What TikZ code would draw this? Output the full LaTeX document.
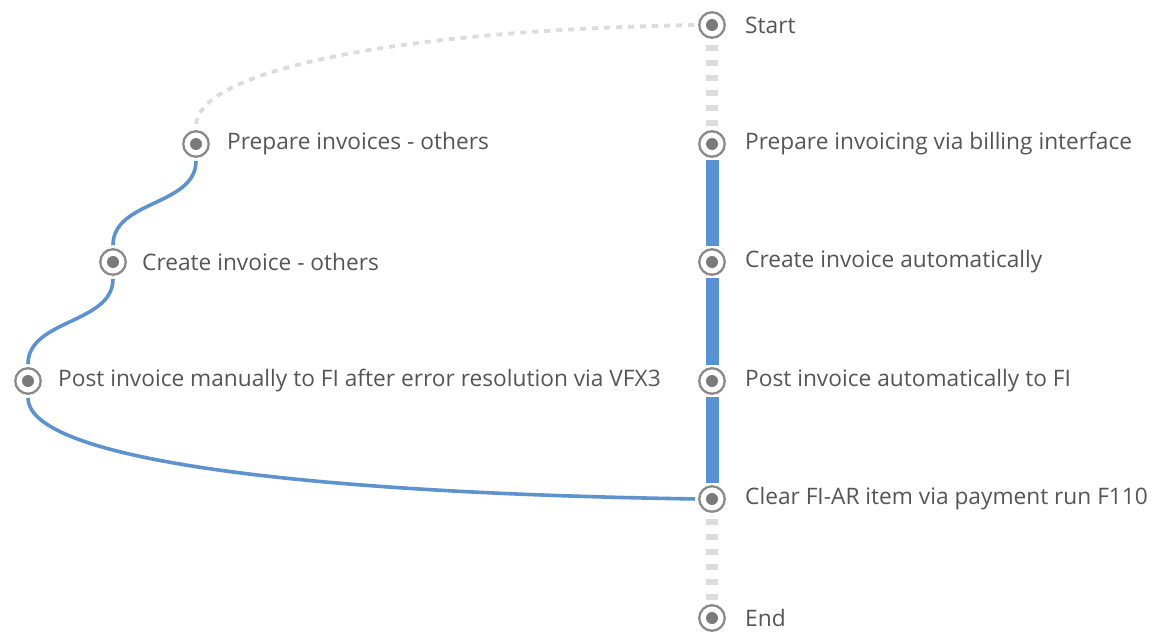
\documentclass[tikz,border=0pt]{standalone}
\usepackage{fontspec}
\setmainfont{Open Sans}
\definecolor{ringgray}{HTML}{8A8A8A}
\definecolor{dotgray}{HTML}{7A7A7A}
\definecolor{txtgray}{HTML}{555555}
\definecolor{flowblue}{HTML}{5A90D4}
\definecolor{altblue}{HTML}{5E92CE}
\definecolor{pathgray}{HTML}{DCDCDC}
\begin{document}
\begin{tikzpicture}[x=1pt,y=-1pt,
  stepmark/.style={circle,draw=ringgray,line width=2.3pt,minimum size=25.5pt,inner sep=0pt,fill=white,
    path picture={\fill[dotgray] (path picture bounding box.center) circle (6pt);}},
  lbl/.style={anchor=west,inner sep=0pt,text=txtgray,font=\fontsize{22.7}{26}\selectfont},
  mainflow/.style={draw=flowblue,line width=13pt,shorten <=2.5pt,shorten >=2.5pt},
  altflow/.style={draw=altblue,line width=3.6pt,shorten <=3pt,shorten >=3pt},
  grayflow/.style={draw=pathgray,line width=12pt,dash pattern=on 6pt off 9pt,shorten <=6pt,shorten >=4pt},
  graydot/.style={draw=pathgray,line width=3.8pt,dash pattern=on 6pt off 6pt,shorten <=4pt,shorten >=4pt}]
\useasboundingbox (0,0) rectangle (1155,637);
% markers
\node[stepmark] (start) at (712,25) {};
\node[stepmark] (prepA) at (712,144) {};
\node[stepmark] (createA) at (712,262) {};
\node[stepmark] (postA) at (712,381) {};
\node[stepmark] (clear) at (712,499) {};
\node[stepmark] (end) at (712,618) {};
\node[stepmark] (prepB) at (196,144) {};
\node[stepmark] (createB) at (113,262) {};
\node[stepmark] (postB) at (28,381) {};
% labels
\node[lbl] (tstart) at (745,25) {Start};
\node[lbl] (tprepA) at (745,144) {Prepare invoicing via billing interface};
\node[lbl] (tcreateA) at (745,262) {Create invoice automatically};
\node[lbl] (tpostA) at (745,381) {Post invoice automatically to FI};
\node[lbl] (tclear) at (745,499) {Clear FI-AR item via payment run F110};
\node[lbl] (tend) at (745,618) {End};
\node[lbl] (tprepB) at (227,144) {Prepare invoices - others};
\node[lbl] (tcreateB) at (142,262) {Create invoice - others};
\node[lbl] (tpostB) at (58,381) {Post invoice manually to FI after error resolution via VFX3};
% connectors
\draw[grayflow] (start.south) -- (prepA.north);
\draw[mainflow] (prepA.south) -- (createA.north);
\draw[mainflow] (createA.south) -- (postA.north);
\draw[mainflow] (postA.south) -- (clear.north);
\draw[grayflow] (clear.south) -- (end.north);
\draw[graydot] (start.west) .. controls (400,30) and (196,70) .. (prepB.north);
\draw[altflow] (prepB.south) .. controls +(0,48) and +(0,-48) .. (createB.north);
\draw[altflow] (createB.south) .. controls +(0,48) and +(0,-48) .. (postB.north);
\draw[altflow] (postB.south) .. controls +(0,58) and (250,492) .. (clear.west);
\end{tikzpicture}
\end{document}
